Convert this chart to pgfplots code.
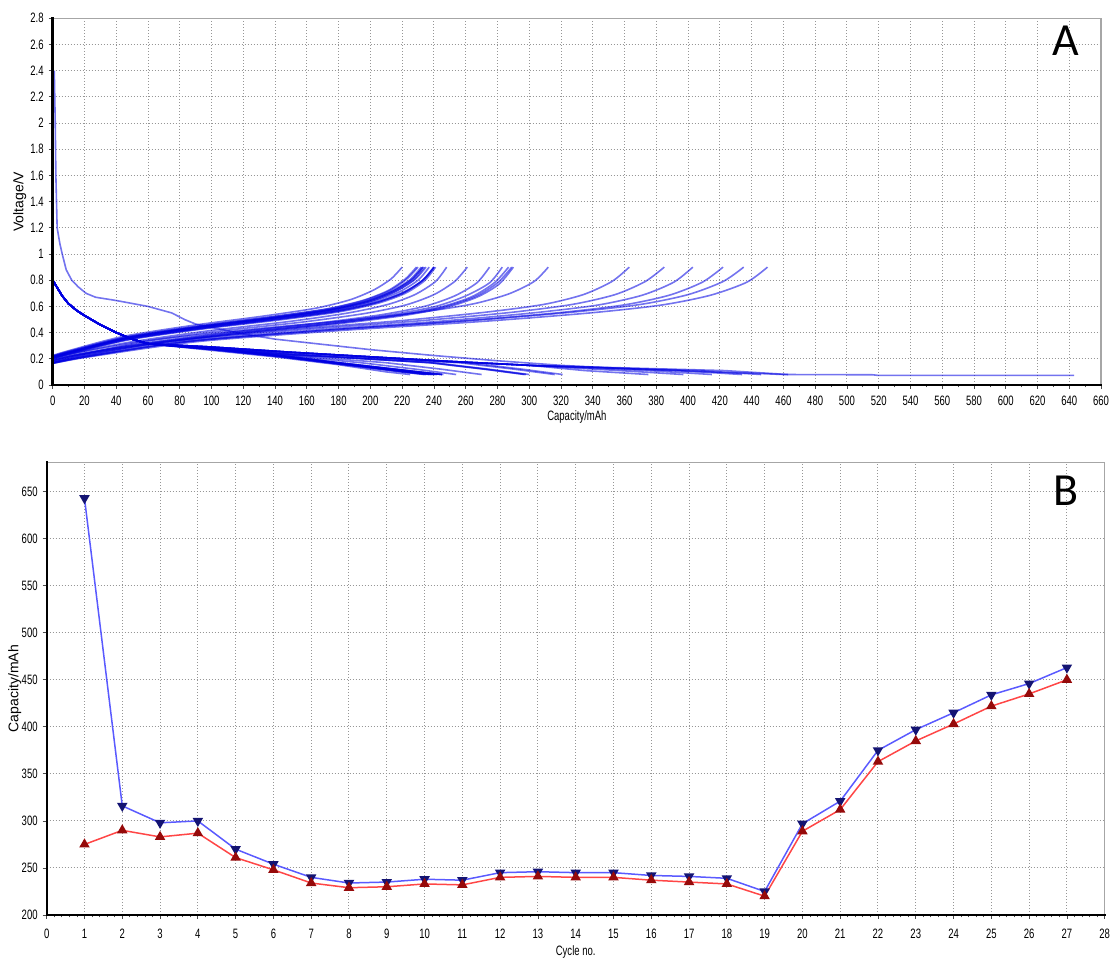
\documentclass[border=0pt]{standalone}
\usepackage{pgfplots}
\pgfplotsset{compat=1.18}
\usepackage{fontspec}
\setmainfont{Liberation Sans}
\newfontfamily\narrowfont[FakeStretch=0.7]{Liberation Sans}
\newfontfamily\panelfont{Carlito}

\definecolor{curveblue}{RGB}{0,0,225}
\definecolor{gridgray}{RGB}{150,150,150}
\definecolor{chgline}{RGB}{90,90,255}
\definecolor{chgmark}{RGB}{20,20,115}
\definecolor{disline}{RGB}{255,70,70}
\definecolor{dismark}{RGB}{150,10,10}

\pgfplotsset{
  panel/.style={
    scale only axis, anchor=south west,
    axis line style={draw=none},
    grid=major,
    major grid style={gridgray, line width=0.5pt, dash pattern=on 0.5pt off 1pt},
    tick align=outside, xtick pos=bottom, ytick pos=left,
    major tick length=2pt, minor tick length=1.2pt,
    tick style={black!70, line width=0.4pt},
    ticklabel style={font=\narrowfont\fontsize{6.8}{7}\selectfont},
    yticklabel style={xshift=1pt},
    /pgf/number format/assume math mode=true,
    xlabel style={font=\narrowfont\fontsize{6.8}{7}\selectfont, inner sep=1pt},
    ylabel style={font=\fontsize{7}{8}\selectfont, anchor=center},
    after end axis/.code={
      \draw[gray!70, line width=0.6pt] (rel axis cs:0,1) -- (rel axis cs:1,1) -- (rel axis cs:1,0);
      \draw[black, line width=1.2pt, line cap=rect] (rel axis cs:0,1) -- (rel axis cs:0,0) -- (rel axis cs:1,0);
    },
  },
  vc/.style={no markers, line width=0.8pt, curveblue, opacity=0.55, line join=round},
  vcs/.style={vc, smooth, tension=0.45},
}

\begin{document}
\begin{tikzpicture}
\path[use as bounding box] (0,0) rectangle (557.5pt,479pt);

% ---------------- Voltage profiles ----------------
\begin{axis}[panel,
  at={(26.35pt,286.5pt)}, width=524.2pt, height=183.35pt,
  xmin=0, xmax=660, ymin=0, ymax=2.8,
  xtick={0,20,...,660},
  ytick={0,0.2,0.4,0.6,0.8,1,1.2,1.4,1.6,1.8,2,2.2,2.4,2.6,2.8},
  minor x tick num=1,
  xlabel={Capacity/mAh}, ylabel={Voltage/V},
  xlabel style={yshift=2pt},
  ylabel style={at={([xshift=-16.5pt]rel axis cs:0,0.5)}},
]
% first cycle, lithiation
\addplot[vc] coordinates {(1,2.40)(1.3,2.20)(1.6,2.00)(2.0,1.60)(2.8,1.20)(4.5,1.08)(6,1.00)(8.5,0.88)(12,0.80)(16,0.75)(21,0.70)(27,0.67)(40,0.645)(60,0.60)(75,0.55)(83,0.50)(90,0.465)(100,0.44)(120,0.39)(140,0.35)(170,0.31)(200,0.27)(240,0.225)(280,0.185)(320,0.15)(360,0.125)(400,0.105)(440,0.09)(460,0.08)(516,0.078)(520,0.073)(643,0.073)};
% cycles 2-6, 20, 21
\addplot[vc] coordinates {(0,0.80)(3,0.74)(6,0.68)(10,0.62)(15,0.57)(20,0.53)(30,0.46)(40,0.40)(50,0.35)(60,0.315)(100,0.28)(150,0.23)(256,0.17)(291,0.12)(316,0.08)};
\addplot[vc] coordinates {(0,0.80)(3,0.74)(6,0.68)(10,0.62)(15,0.57)(20,0.53)(30,0.46)(40,0.40)(50,0.35)(60,0.315)(100,0.285)(150,0.235)(238,0.17)(273,0.12)(298,0.08)};
\addplot[vc] coordinates {(0,0.80)(3,0.74)(6,0.68)(10,0.62)(15,0.57)(20,0.53)(30,0.46)(40,0.40)(50,0.35)(60,0.315)(100,0.28)(150,0.23)(240,0.17)(275,0.12)(300,0.08)};
\addplot[vc] coordinates {(0,0.80)(3,0.74)(6,0.68)(10,0.62)(15,0.57)(20,0.53)(30,0.46)(40,0.40)(50,0.35)(60,0.315)(100,0.275)(150,0.225)(210,0.17)(245,0.12)(270,0.08)};
\addplot[vc] coordinates {(0,0.80)(3,0.74)(6,0.68)(10,0.62)(15,0.57)(20,0.53)(30,0.46)(40,0.40)(50,0.35)(60,0.315)(100,0.275)(150,0.22)(194,0.17)(229,0.12)(254,0.08)};
\addplot[vc] coordinates {(0,0.80)(3,0.74)(6,0.68)(10,0.62)(15,0.57)(20,0.53)(30,0.46)(40,0.40)(50,0.35)(60,0.315)(100,0.285)(150,0.235)(237,0.17)(272,0.12)(297,0.08)};
\addplot[vc] coordinates {(0,0.80)(3,0.74)(6,0.68)(10,0.62)(15,0.57)(20,0.53)(30,0.46)(40,0.40)(50,0.35)(60,0.315)(100,0.285)(150,0.24)(261,0.17)(296,0.12)(321,0.08)};
% cycles 7-19
\addplot[vc] coordinates {(0,0.80)(3,0.74)(6,0.68)(10,0.62)(15,0.57)(20,0.53)(30,0.46)(40,0.40)(50,0.35)(60,0.315)(100,0.275)(140,0.225)(180,0.165)(225,0.10)(240,0.08)};
\addplot[vc] coordinates {(0,0.80)(3,0.74)(6,0.68)(10,0.62)(15,0.57)(20,0.53)(30,0.46)(40,0.40)(50,0.35)(60,0.315)(100,0.27)(140,0.22)(180,0.16)(219,0.10)(234,0.08)};
\addplot[vc] coordinates {(0,0.80)(3,0.74)(6,0.68)(10,0.62)(15,0.57)(20,0.53)(30,0.46)(40,0.40)(50,0.35)(60,0.315)(100,0.27)(140,0.22)(180,0.16)(220,0.10)(235,0.08)};
\addplot[vc] coordinates {(0,0.80)(3,0.74)(6,0.68)(10,0.62)(15,0.57)(20,0.53)(30,0.46)(40,0.40)(50,0.35)(60,0.315)(100,0.275)(140,0.225)(180,0.165)(223,0.10)(238,0.08)};
\addplot[vc] coordinates {(0,0.80)(3,0.74)(6,0.68)(10,0.62)(15,0.57)(20,0.53)(30,0.46)(40,0.40)(50,0.35)(60,0.315)(100,0.275)(140,0.225)(180,0.165)(222,0.10)(237,0.08)};
\addplot[vc] coordinates {(0,0.80)(3,0.74)(6,0.68)(10,0.62)(15,0.57)(20,0.53)(30,0.46)(40,0.40)(50,0.35)(60,0.315)(100,0.28)(140,0.23)(180,0.17)(230,0.10)(245,0.08)};
\addplot[vc] coordinates {(0,0.80)(3,0.74)(6,0.68)(10,0.62)(15,0.57)(20,0.53)(30,0.46)(40,0.40)(50,0.35)(60,0.315)(100,0.28)(140,0.23)(180,0.17)(231,0.10)(246,0.08)};
\addplot[vc] coordinates {(0,0.80)(3,0.74)(6,0.68)(10,0.62)(15,0.57)(20,0.53)(30,0.46)(40,0.40)(50,0.35)(60,0.315)(100,0.28)(140,0.23)(180,0.17)(230,0.10)(245,0.08)};
\addplot[vc] coordinates {(0,0.80)(3,0.74)(6,0.68)(10,0.62)(15,0.57)(20,0.53)(30,0.46)(40,0.40)(50,0.35)(60,0.315)(100,0.28)(140,0.23)(180,0.17)(230,0.10)(245,0.08)};
\addplot[vc] coordinates {(0,0.80)(3,0.74)(6,0.68)(10,0.62)(15,0.57)(20,0.53)(30,0.46)(40,0.40)(50,0.35)(60,0.315)(100,0.275)(140,0.225)(180,0.165)(227,0.10)(242,0.08)};
\addplot[vc] coordinates {(0,0.80)(3,0.74)(6,0.68)(10,0.62)(15,0.57)(20,0.53)(30,0.46)(40,0.40)(50,0.35)(60,0.315)(100,0.275)(140,0.225)(180,0.165)(226,0.10)(241,0.08)};
\addplot[vc] coordinates {(0,0.80)(3,0.74)(6,0.68)(10,0.62)(15,0.57)(20,0.53)(30,0.46)(40,0.40)(50,0.35)(60,0.315)(100,0.275)(140,0.225)(180,0.165)(224,0.10)(239,0.08)};
\addplot[vc] coordinates {(0,0.80)(3,0.74)(6,0.68)(10,0.62)(15,0.57)(20,0.53)(30,0.46)(40,0.40)(50,0.35)(60,0.315)(100,0.265)(140,0.215)(180,0.155)(210,0.10)(225,0.08)};
% cycles 22-27
\addplot[vc] coordinates {(0,0.80)(3,0.74)(6,0.68)(10,0.62)(15,0.57)(20,0.53)(30,0.46)(40,0.40)(50,0.35)(60,0.315)(100,0.29)(150,0.25)(200,0.215)(250,0.18)(300,0.15)(335,0.11)(375,0.08)};
\addplot[vc] coordinates {(0,0.80)(3,0.74)(6,0.68)(10,0.62)(15,0.57)(20,0.53)(30,0.46)(40,0.40)(50,0.35)(60,0.315)(100,0.29)(150,0.25)(200,0.215)(250,0.18)(300,0.15)(357,0.11)(397,0.08)};
\addplot[vc] coordinates {(0,0.80)(3,0.74)(6,0.68)(10,0.62)(15,0.57)(20,0.53)(30,0.46)(40,0.40)(50,0.35)(60,0.315)(100,0.29)(150,0.25)(200,0.215)(250,0.18)(300,0.15)(375,0.11)(415,0.08)};
\addplot[vc] coordinates {(0,0.80)(3,0.74)(6,0.68)(10,0.62)(15,0.57)(20,0.53)(30,0.46)(40,0.40)(50,0.35)(60,0.315)(100,0.29)(150,0.25)(200,0.215)(250,0.18)(300,0.15)(394,0.11)(434,0.08)};
\addplot[vc] coordinates {(0,0.80)(3,0.74)(6,0.68)(10,0.62)(15,0.57)(20,0.53)(30,0.46)(40,0.40)(50,0.35)(60,0.315)(100,0.29)(150,0.25)(200,0.215)(250,0.18)(300,0.15)(406,0.11)(446,0.08)};
\addplot[vc] coordinates {(0,0.80)(3,0.74)(6,0.68)(10,0.62)(15,0.57)(20,0.53)(30,0.46)(40,0.40)(50,0.35)(60,0.315)(100,0.29)(150,0.25)(200,0.215)(250,0.18)(300,0.15)(423,0.11)(463,0.08)};
% delithiation, cycles 1-6, 20
\addplot[vcs] coordinates {(0,0.19)(14,0.23)(55,0.315)(110,0.40)(165,0.47)(206,0.535)(234,0.60)(253,0.68)(267,0.78)(275,0.90)};
\addplot[vcs] coordinates {(0,0.18)(15,0.22)(58,0.305)(116,0.39)(174,0.46)(218,0.525)(247,0.59)(267,0.67)(281,0.77)(290,0.90)};
\addplot[vcs] coordinates {(0,0.19)(14,0.23)(57,0.315)(113,0.40)(170,0.47)(212,0.535)(241,0.60)(260,0.68)(275,0.78)(283,0.90)};
\addplot[vcs] coordinates {(0,0.185)(14,0.225)(57,0.31)(115,0.395)(172,0.465)(215,0.53)(244,0.595)(264,0.675)(278,0.78)(287,0.90)};
\addplot[vcs] coordinates {(0,0.20)(13,0.24)(52,0.325)(104,0.41)(157,0.48)(196,0.545)(222,0.61)(240,0.69)(253,0.79)(261,0.90)};
\addplot[vcs] coordinates {(0,0.20)(12,0.24)(50,0.33)(99,0.415)(149,0.485)(186,0.55)(211,0.615)(228,0.69)(241,0.79)(248,0.90)};
\addplot[vcs] coordinates {(0,0.185)(14,0.225)(58,0.31)(116,0.395)(173,0.465)(217,0.53)(246,0.595)(266,0.675)(280,0.78)(289,0.90)};
% delithiation, cycles 7-19
\addplot[vcs] coordinates {(0,0.21)(12,0.25)(47,0.355)(94,0.44)(140,0.51)(176,0.57)(199,0.635)(215,0.71)(227,0.80)(234,0.90)};
\addplot[vcs] coordinates {(0,0.22)(11,0.26)(46,0.365)(92,0.45)(137,0.52)(172,0.58)(195,0.645)(211,0.72)(222,0.81)(229,0.90)};
\addplot[vcs] coordinates {(0,0.22)(12,0.26)(46,0.365)(92,0.45)(138,0.52)(173,0.58)(196,0.645)(212,0.72)(223,0.81)(230,0.90)};
\addplot[vcs] coordinates {(0,0.215)(12,0.255)(47,0.36)(93,0.445)(140,0.515)(175,0.575)(198,0.64)(214,0.715)(226,0.805)(233,0.90)};
\addplot[vcs] coordinates {(0,0.215)(12,0.255)(46,0.36)(93,0.445)(139,0.515)(174,0.575)(197,0.64)(213,0.715)(225,0.805)(232,0.90)};
\addplot[vcs] coordinates {(0,0.205)(12,0.245)(48,0.35)(96,0.435)(144,0.505)(180,0.565)(204,0.63)(221,0.705)(233,0.80)(240,0.90)};
\addplot[vcs] coordinates {(0,0.20)(12,0.24)(48,0.345)(96,0.43)(145,0.50)(181,0.56)(205,0.625)(222,0.70)(234,0.795)(241,0.90)};
\addplot[vcs] coordinates {(0,0.205)(12,0.245)(48,0.35)(96,0.435)(144,0.505)(180,0.565)(204,0.63)(221,0.705)(233,0.80)(240,0.90)};
\addplot[vcs] coordinates {(0,0.21)(12,0.25)(48,0.355)(96,0.44)(144,0.51)(180,0.57)(204,0.635)(221,0.71)(233,0.80)(240,0.90)};
\addplot[vcs] coordinates {(0,0.21)(12,0.25)(47,0.355)(95,0.44)(142,0.51)(178,0.57)(201,0.635)(218,0.71)(230,0.80)(237,0.90)};
\addplot[vcs] coordinates {(0,0.215)(12,0.255)(47,0.36)(94,0.445)(141,0.515)(176,0.575)(200,0.64)(216,0.715)(228,0.805)(235,0.90)};
\addplot[vcs] coordinates {(0,0.215)(12,0.255)(47,0.36)(93,0.445)(140,0.515)(175,0.575)(198,0.64)(214,0.715)(226,0.805)(233,0.90)};
\addplot[vcs] coordinates {(0,0.225)(11,0.265)(44,0.37)(88,0.455)(132,0.525)(165,0.585)(187,0.65)(202,0.725)(213,0.81)(220,0.90)};
% delithiation, cycles 21-27
\addplot[vcs] coordinates {(0,0.175)(16,0.225)(62,0.34)(125,0.425)(187,0.495)(234,0.56)(265,0.62)(287,0.695)(303,0.79)(312,0.90)};
\addplot[vcs] coordinates {(0,0.17)(18,0.22)(73,0.335)(145,0.42)(218,0.49)(272,0.555)(309,0.615)(334,0.69)(352,0.79)(363,0.90)};
\addplot[vcs] coordinates {(0,0.17)(19,0.22)(77,0.335)(154,0.42)(231,0.49)(289,0.555)(327,0.615)(354,0.69)(373,0.79)(385,0.90)};
\addplot[vcs] coordinates {(0,0.165)(20,0.215)(81,0.33)(161,0.415)(242,0.485)(302,0.55)(343,0.61)(371,0.685)(391,0.785)(403,0.90)};
\addplot[vcs] coordinates {(0,0.165)(21,0.215)(84,0.33)(169,0.415)(253,0.485)(317,0.55)(359,0.61)(388,0.685)(409,0.785)(422,0.90)};
\addplot[vcs] coordinates {(0,0.17)(22,0.22)(87,0.335)(174,0.42)(261,0.49)(326,0.555)(370,0.615)(400,0.69)(422,0.79)(435,0.90)};
\addplot[vcs] coordinates {(0,0.165)(23,0.215)(90,0.33)(180,0.415)(270,0.485)(338,0.55)(383,0.61)(414,0.685)(437,0.785)(450,0.90)};
\node[font=\panelfont\fontsize{23}{23}\selectfont] at (rel axis cs:0.9667,0.938) {A};
\end{axis}

% ---------------- Capacity vs cycle ----------------
\begin{axis}[panel,
  at={(23.35pt,21.5pt)}, width=529pt, height=226.25pt,
  xmin=0, xmax=28, ymin=200, ymax=681,
  xtick={0,1,...,28},
  ytick={200,250,...,650},
  minor x tick num=4,
  xlabel={Cycle no.}, ylabel={Capacity/mAh},
  xticklabel style={yshift=-1.5pt},
  xlabel style={yshift=1pt},
  ylabel style={at={([xshift=-16pt]rel axis cs:0,0.5)}},
]
\addplot[chgline, line width=0.75pt, mark=triangle*, mark size=2.3pt,
  mark options={chgmark, fill=chgmark, rotate=180, solid}]
  coordinates {(1,643)(2,316)(3,298)(4,300)(5,270)(6,254)(7,240)(8,234)(9,235)(10,238)(11,237)(12,245)(13,246)(14,245)(15,245)(16,242)(17,241)(18,239)(19,225)(20,297)(21,321)(22,375)(23,397)(24,415)(25,434)(26,446)(27,463)};
\addplot[disline, line width=0.75pt, mark=triangle*, mark size=2.3pt,
  mark options={dismark, fill=dismark, solid}]
  coordinates {(1,275)(2,290)(3,283)(4,287)(5,261)(6,248)(7,234)(8,229)(9,230)(10,233)(11,232)(12,240)(13,241)(14,240)(15,240)(16,237)(17,235)(18,233)(19,220)(20,289)(21,312)(22,363)(23,385)(24,403)(25,422)(26,435)(27,450)};
\node[font=\panelfont\fontsize{23}{23}\selectfont] at (rel axis cs:0.963,0.937) {B};
\end{axis}
\end{tikzpicture}
\end{document}
